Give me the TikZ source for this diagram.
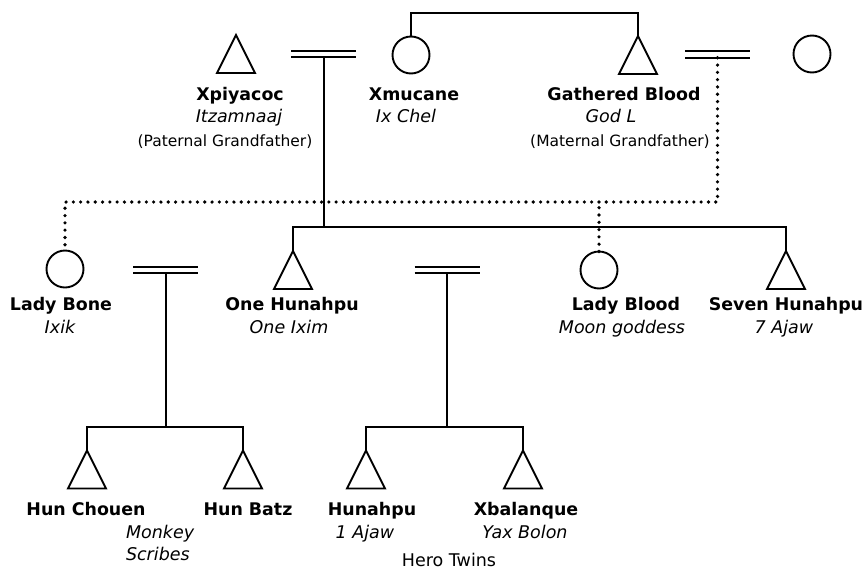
\documentclass[tikz,border=0pt]{standalone}
\usepackage{fontspec}
\setmainfont{DejaVu Sans}
\begin{document}
\begin{tikzpicture}[x=1pt,y=1pt,
  line width=2pt,
  tri/.style={minimum width=38pt, minimum height=38pt, inner sep=0pt, outer sep=0pt,
    append after command={\pgfextra{\draw[line width=1.9pt, line join=miter]
      (\tikzlastnode.south west) -- (\tikzlastnode.north) -- (\tikzlastnode.south east) -- cycle;}}},
  circ/.style={circle, draw, line width=1.9pt, minimum size=37pt, inner sep=0pt, outer sep=0pt},
  marr/.style={minimum width=65pt, minimum height=6.5pt, inner sep=0pt, outer sep=0pt,
    append after command={\pgfextra{\draw[line width=2.4pt]
      (\tikzlastnode.north west) -- (\tikzlastnode.north east)
      (\tikzlastnode.south west) -- (\tikzlastnode.south east);}}},
  nm/.style={anchor=base, inner sep=0pt, font=\fontsize{17.4}{20}\selectfont\bfseries},
  alt/.style={anchor=base, inner sep=0pt, font=\fontsize{17.5}{20}\selectfont\itshape},
  rel/.style={anchor=base, inner sep=0pt, font=\fontsize{15.5}{18}\selectfont},
  grp/.style={anchor=base, inner sep=0pt, font=\fontsize{17.5}{20}\selectfont},
  dotline/.style={line width=3.6pt, line cap=round, dash pattern=on 0pt off 7.3pt}
]
\useasboundingbox (0,-571) rectangle (868,0);

% ---- grandparents
\node[tri]  (xpi)  at (236,-54) {};
\node[marr] (m1)   at (323.5,-54) {};
\node[circ] (xmu)  at (411,-55) {};
\node[tri]  (gath) at (638,-55) {};
\node[marr] (m2)   at (717.5,-54.5) {};
\node[circ] (gw)   at (812,-54) {};

\node[nm]  (t1) at (240,-100) {Xpiyacoc};
\node[alt] (t2) at (239,-122) {Itzamnaaj};
\node[rel] (t3) at (225,-146) {(Paternal Grandfather)};
\node[nm]  (t4) at (414,-100) {Xmucane};
\node[alt] (t5) at (406,-122) {Ix Chel};
\node[nm]  (t6) at (624,-100) {Gathered Blood};
\node[alt] (t7) at (611,-122) {God L};
\node[rel] (t8) at (620,-146) {(Maternal Grandfather)};

% ---- parents' generation
\node[circ] (bone)  at (65,-269) {};
\node[marr] (m3)    at (165.5,-270) {};
\node[tri]  (oneh)  at (293,-270) {};
\node[marr] (m4)    at (447,-270) {};
\node[circ] (blood) at (599,-270) {};
\node[tri]  (seven) at (786,-270) {};

\node[nm]  (t9)  at (61,-310)  {Lady Bone};
\node[alt] (t10) at (60,-333)  {Ixik};
\node[nm]  (t11) at (292,-310) {One Hunahpu};
\node[alt] (t12) at (289,-333) {One Ixim};
\node[nm]  (t13) at (626,-310) {Lady Blood};
\node[alt] (t14) at (622,-333) {Moon goddess};
\node[nm]  (t15) at (786,-310) {Seven Hunahpu};
\node[alt] (t16) at (784,-333) {7 Ajaw};

% ---- children
\node[tri] (chouen) at (87,-469.5) {};
\node[tri] (batz)   at (243,-469.5) {};
\node[tri] (hun)    at (366,-469.5) {};
\node[tri] (xba)    at (523,-469.5) {};

\node[nm]  (t17) at (86,-515)  {Hun Chouen};
\node[nm]  (t18) at (248,-515) {Hun Batz};
\node[alt, anchor=base west] (t19) at (125,-538) {Monkey};
\node[alt, anchor=base west] (t20) at (125,-560) {Scribes};
\node[nm]  (t21) at (372,-515) {Hunahpu};
\node[alt] (t22) at (365,-538) {1 Ajaw};
\node[nm]  (t23) at (526,-515) {Xbalanque};
\node[alt] (t24) at (525,-538) {Yax Bolon};
\node[grp] (t25) at (449,-566) {Hero Twins};

% ---- junction levels
\coordinate (top)  at (0,-13);
\coordinate (dot)  at (0,-202);
\coordinate (sib1) at (0,-227);
\coordinate (sib2) at (0,-427);

% descent lines
\draw (xmu.north) -- (xmu.north |- top) -| (gath.north);
\draw (m1.south) -- (m1.south |- sib1);
\draw (oneh.north) -- (oneh.north |- sib1) -- (seven.north |- sib1) -- (seven.north);
\draw (m3.south) -- (m3.south |- sib2);
\draw (chouen.north) -- (chouen.north |- sib2) -- (batz.north |- sib2) -- (batz.north);
\draw (m4.south) -- (m4.south |- sib2);
\draw (hun.north) -- (hun.north |- sib2) -- (xba.north |- sib2) -- (xba.north);

% dotted descent from Gathered Blood
\draw[dotline] (m2.south) -- (m2.south |- dot) -| (bone.north);
\draw[dotline] (blood.north) -- (blood.north |- dot);
\end{tikzpicture}
\end{document}
